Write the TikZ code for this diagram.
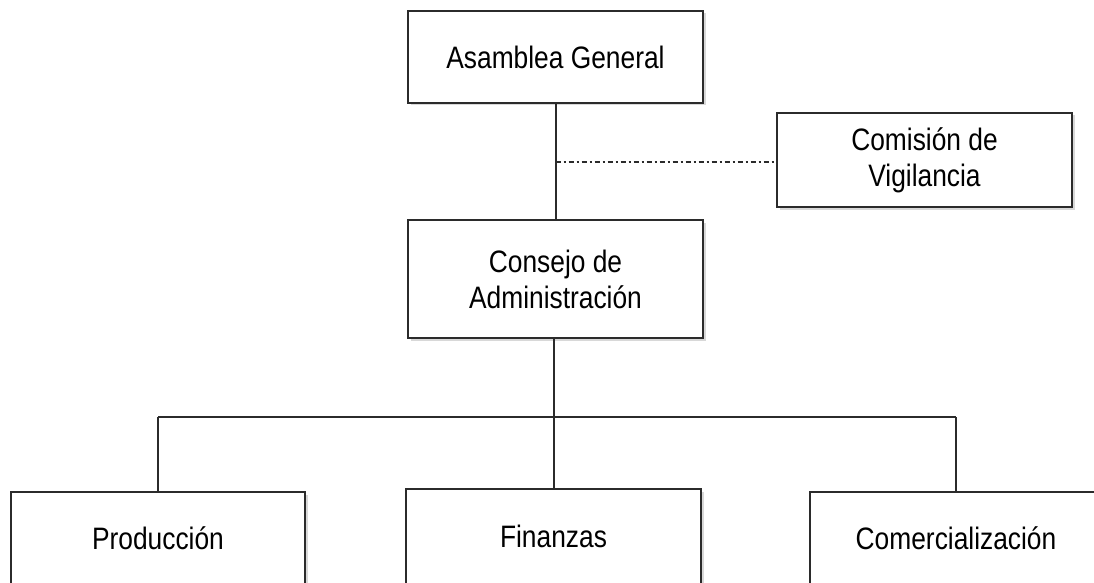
\documentclass[tikz,border=0pt]{standalone}
\usepackage{fontspec}
\setmainfont{Liberation Sans}[FakeStretch=0.85]
\usetikzlibrary{shadows}
\definecolor{linec}{HTML}{2B2B2B}
\tikzset{
  orgbox/.style={draw=linec, line width=2pt, fill=white, rectangle, inner sep=0pt,
    minimum width=295pt, align=center, text=black,
    font=\fontsize{31}{36}\selectfont,
    drop shadow={opacity=0.3, shadow xshift=2.5pt, shadow yshift=-2.5pt}},
  conn/.style={draw=linec, line width=2pt},
  dashdot/.style={draw=linec, line width=1.8pt, dash pattern=on 5pt off 3pt on 2pt off 3pt}
}
\begin{document}
\begin{tikzpicture}[x=1pt,y=-1pt]
\useasboundingbox (0,0) rectangle (1094,583);
\clip (0,0) rectangle (1094,583);
\fill[white] (0,0) rectangle (1094,583);
% boxes
\node[orgbox, minimum height=92pt] (ag) at (555.5,57) {Asamblea General};
\node[orgbox, minimum height=94pt] (cv) at (924.5,160) {Comisión de\\Vigilancia};
\node[orgbox, minimum height=118pt] (ca) at (555.5,279) {Consejo de\\Administración};
\node[orgbox, minimum width=294pt, minimum height=92pt] (prod) at (158,538) {Producción};
\node[orgbox, minimum height=95pt] (fin) at (553.5,536.5) {Finanzas};
\node[orgbox, minimum width=292pt, minimum height=92pt] (com) at (956,538) {Comercialización};
% connectors
\coordinate (jv) at (555.5,162);
\coordinate (bus) at (553.5,417);
\coordinate (busl) at (158,417);
\coordinate (busr) at (956,417);
\draw[conn] (ag.south) -- (ca.north);
\draw[dashdot] (jv) -- (jv -| cv.west);
\draw[conn] (ca.south -| bus) -- (bus);
\draw[conn] (busl) -- (busr);
\draw[conn] (busl) -- (prod.north);
\draw[conn] (bus) -- (fin.north);
\draw[conn] (busr) -- (com.north);
\end{tikzpicture}
\end{document}
